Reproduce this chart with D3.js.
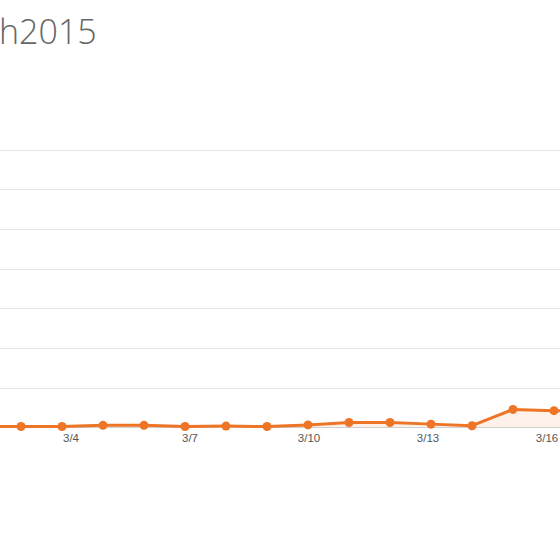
<!DOCTYPE html>
<html>
<head>
<meta charset="utf-8">
<script src="https://cdn.jsdelivr.net/npm/d3@7"></script>
<style>
  html, body { margin: 0; padding: 0; background: #fff; overflow: hidden; }
  svg { display: block; }
</style>
</head>
<body>
<svg id="chart" width="560" height="534"></svg>
<script>
// daily counts, March 2015 (day of month)
const days = [1, 2, 3, 4, 5, 6, 7, 8, 9, 10, 11, 12, 13, 14, 15, 16, 17];
const counts = [2, 2, 2, 2, 5, 5, 2, 3, 2, 6, 12, 12, 8, 4, 45, 42, 41];
const gridValues = [100, 200, 300, 400, 500, 600, 700];
const tickDays = [4, 7, 10, 13, 16];
const titleText = 'h2015';

const svg = d3.select('#chart');
const color = '#ef7526';

const x = d3.scaleLinear().domain([3, 16]).range([21, 554]);
// axis labels sit on a slightly tighter spacing than the points
const xLabel = d3.scaleLinear().domain([4, 16]).range([71, 547]);
const y = d3.scaleLinear().domain([0, 700]).range([427.3, 149.5]);

const data = days.map((d, i) => ({ day: d, value: counts[i] }));

svg.append('text')
  .attr('x', -1)
  .attr('y', 44)
  .attr('font-family', '"Open Sans", sans-serif')
  .attr('font-weight', 300)
  .attr('font-size', 34)
  .attr('fill', '#666')
  .text(titleText);

svg.append('g')
  .selectAll('line')
  .data(gridValues)
  .enter().append('line')
    .attr('x1', 0)
    .attr('x2', 560)
    .attr('y1', d => Math.round(y(d)) + 0.5)
    .attr('y2', d => Math.round(y(d)) + 0.5)
    .attr('stroke', '#e3e3e3')
    .attr('stroke-width', 1);

const area = d3.area()
  .x(d => x(d.day))
  .y0(y(0))
  .y1(d => y(d.value));

svg.append('path')
  .datum(data)
  .attr('d', area)
  .attr('fill', color)
  .attr('fill-opacity', 0.1);

svg.append('line')
  .attr('x1', 0)
  .attr('x2', 560)
  .attr('y1', Math.round(y(0)) + 0.5)
  .attr('y2', Math.round(y(0)) + 0.5)
  .attr('stroke', '#cfcfcf');

const line = d3.line()
  .x(d => x(d.day))
  .y(d => y(d.value));

svg.append('path')
  .datum(data)
  .attr('d', line)
  .attr('fill', 'none')
  .attr('stroke', color)
  .attr('stroke-width', 3)
  .attr('stroke-linejoin', 'round');

svg.append('g')
  .selectAll('circle')
  .data(data)
  .enter().append('circle')
    .attr('cx', d => x(d.day))
    .attr('cy', d => y(d.value))
    .attr('r', 4.5)
    .attr('fill', color);

svg.append('g')
  .selectAll('text')
  .data(tickDays)
  .enter().append('text')
    .attr('x', d => xLabel(d))
    .attr('y', 442)
    .attr('text-anchor', 'middle')
    .attr('font-family', '"Liberation Sans", Arial, sans-serif')
    .attr('font-size', 11.5)
    .attr('fill', '#555')
    .text(d => `3/${d}`);
</script>
</body>
</html>
